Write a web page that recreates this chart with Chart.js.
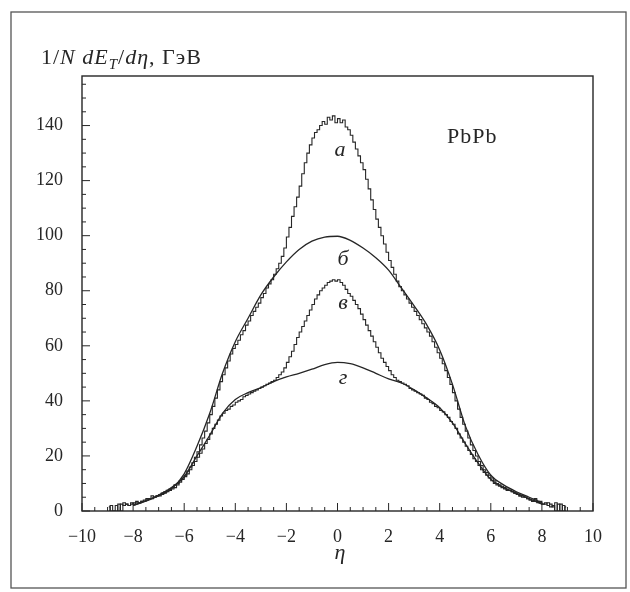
<!DOCTYPE html>
<html>
<head>
<meta charset="utf-8">
<script src="https://cdn.jsdelivr.net/npm/chart.js@4.4.1/dist/chart.umd.min.js"></script>
<style>
  body { margin: 0; background: #fff; }
  canvas { display: block; }
</style>
</head>
<body>
<canvas id="etChart" width="630" height="592" style="width:630px;height:592px"></canvas>
<script>
// центри бінів гістограм (крок 0.1)
const etaBins = [
  -8.95, -8.85, -8.75, -8.65, -8.55, -8.45, -8.35, -8.25, -8.15, -8.05,
  -7.95, -7.85, -7.75, -7.65, -7.55, -7.45, -7.35, -7.25, -7.15, -7.05,
  -6.95, -6.85, -6.75, -6.65, -6.55, -6.45, -6.35, -6.25, -6.15, -6.05,
  -5.95, -5.85, -5.75, -5.65, -5.55, -5.45, -5.35, -5.25, -5.15, -5.05,
  -4.95, -4.85, -4.75, -4.65, -4.55, -4.45, -4.35, -4.25, -4.15, -4.05,
  -3.95, -3.85, -3.75, -3.65, -3.55, -3.45, -3.35, -3.25, -3.15, -3.05,
  -2.95, -2.85, -2.75, -2.65, -2.55, -2.45, -2.35, -2.25, -2.15, -2.05,
  -1.95, -1.85, -1.75, -1.65, -1.55, -1.45, -1.35, -1.25, -1.15, -1.05,
  -0.95, -0.85, -0.75, -0.65, -0.55, -0.45, -0.35, -0.25, -0.15, -0.05,
  0.05, 0.15, 0.25, 0.35, 0.45, 0.55, 0.65, 0.75, 0.85, 0.95,
  1.05, 1.15, 1.25, 1.35, 1.45, 1.55, 1.65, 1.75, 1.85, 1.95,
  2.05, 2.15, 2.25, 2.35, 2.45, 2.55, 2.65, 2.75, 2.85, 2.95,
  3.05, 3.15, 3.25, 3.35, 3.45, 3.55, 3.65, 3.75, 3.85, 3.95,
  4.05, 4.15, 4.25, 4.35, 4.45, 4.55, 4.65, 4.75, 4.85, 4.95,
  5.05, 5.15, 5.25, 5.35, 5.45, 5.55, 5.65, 5.75, 5.85, 5.95,
  6.05, 6.15, 6.25, 6.35, 6.45, 6.55, 6.65, 6.75, 6.85, 6.95,
  7.05, 7.15, 7.25, 7.35, 7.45, 7.55, 7.65, 7.75, 7.85, 7.95,
  8.05, 8.15, 8.25, 8.35, 8.45, 8.55, 8.65, 8.75, 8.85, 8.95
];

// крива "а" (гістограма)
const histA = [
  0, 2, 0, 0, 2.5, 0, 3, 2.5, 2, 2.5,
  3, 3.5, 3, 3.5, 4, 4.5, 4.5, 5.5, 5, 5.5,
  6, 6.5, 7, 7.5, 8, 8.5, 9.5, 10, 11, 12,
  13, 14.5, 16, 17.5, 19.5, 21.5, 24, 26.5, 29, 32,
  35, 38, 41, 44, 47, 49.5, 52, 54.5, 57, 59,
  60.5, 62, 64, 65.5, 67.5, 69, 71, 72.5, 74, 75.5,
  77.5, 79, 81, 82.5, 84, 86, 88, 90, 92.5, 95.5,
  99.5, 103, 107, 110.5, 114, 118, 122.5, 126.5, 130, 133,
  135.5, 137.5, 138.5, 140, 141.5, 140.5, 143, 142, 143.5, 141,
  142.5, 141, 142, 139.5, 138.5, 136.5, 134, 131.5, 129, 126.5,
  124, 120.5, 117, 113, 109.5, 106, 103, 100, 97, 94,
  91, 88.5, 86, 83.5, 81.5, 80, 78.5, 77, 75.5, 74,
  72.5, 71, 69.5, 68, 66.5, 65, 63.5, 61.5, 59.5, 57.5,
  55.5, 53.5, 51, 48.5, 46, 43, 40, 37, 34, 31.5,
  29, 26.5, 24, 22, 20, 18, 16.5, 15, 14, 13,
  12, 11, 10, 9.5, 9, 8.5, 8, 7.5, 7, 6.5,
  6, 5.5, 5.5, 5, 4.5, 4, 3.5, 4.5, 3, 3.5,
  2.5, 3, 2, 2.5, 1.5, 3, 0, 2.5, 0, 1.5
];

// крива "в" (гістограма)
const histV = [
  1.5, 0, 0, 2, 0, 2.5, 2, 2.5, 2, 3,
  2.5, 3, 3, 3.5, 3.5, 4, 4.5, 4.5, 5, 5.5,
  5.5, 6, 6.5, 7, 7.5, 8, 8.5, 9.5, 10.5, 11.5,
  12.5, 13.5, 15, 16.5, 18, 19.5, 21, 22.5, 24.5, 26,
  28, 30, 31.5, 33, 34.5, 35.5, 36.5, 37, 38, 38.5,
  39.5, 40, 40.5, 41.5, 42, 42.5, 43, 43.5, 44, 44.5,
  45, 45.5, 46, 46.5, 47, 47.5, 48.5, 49.5, 50.5, 52,
  54, 56, 58, 60.5, 63, 65, 67, 69, 71, 73,
  75, 77, 78.5, 80, 81, 82, 83, 83.5, 84, 83.5,
  84, 83, 82, 80.5, 79, 78, 76.5, 75, 73.5, 71.5,
  69.5, 67.5, 65.5, 63.5, 61.5, 59.5, 57.5, 55.5, 54, 52.5,
  51, 49.5, 48.5, 47.5, 47, 46.5, 46, 45.5, 44.5, 44,
  43.5, 43, 42.5, 42, 41, 40.5, 39.5, 39, 38, 37.5,
  36.5, 36, 35, 34, 32.5, 31.5, 30, 28, 26.5, 25,
  23.5, 22, 20.5, 19, 18, 16.5, 15, 14, 13, 12,
  11, 10, 9.5, 9, 8.5, 8, 7.5, 7.5, 7, 6.5,
  6, 5.5, 5, 5, 4.5, 4, 3.5, 4, 3.5, 3,
  2.5, 2.5, 3, 1.5, 2, 0, 2.5, 0, 2, 0
];

// гладкі криві "б" і "г"
const etaSmooth = [-8, -7.5, -7, -6.5, -6, -5.5, -5, -4.5, -4, -3.5, -3, -2.5, -2, -1.5, -1, -0.5,
  0, 0.5, 1, 1.5, 2, 2.5, 3, 3.5, 4, 4.5, 5, 5.5, 6, 6.5, 7, 7.5, 8];
const curveB = [2, 3.6, 5.5, 8, 13.5, 23.5, 35.5, 50, 61.5, 70, 78.5, 85, 90.5, 95, 98, 99.5,
  99.8, 98.3, 95.5, 92, 87.5, 81, 74.5, 67.5, 58.5, 46, 31, 20.5, 13, 9.5, 7, 5, 3];
const curveG = [2, 3.8, 5.8, 8.5, 12.5, 20, 27.5, 35.5, 40.5, 43, 44.8, 47, 48.7, 50, 51.5, 53.2,
  54, 53.5, 52, 50, 48, 46.5, 44, 41, 37.5, 32, 24.5, 17.5, 11.5, 8.5, 6.5, 4.5, 2.5];

// підписи осей
const xTicks = [-10, -8, -6, -4, -2, 0, 2, 4, 6, 8, 10];
const yTicks = [0, 20, 40, 60, 80, 100, 120, 140];

const INK = '#262626';
const SERIF = '"Liberation Serif", "DejaVu Serif", serif';

function pts(xs, ys) {
  return xs.map((x, i) => ({ x: x, y: ys[i] }));
}

// рамки, внутрішні риски, підписи кривих
const decor = {
  id: 'decor',
  afterDraw(chart) {
    const c = chart.ctx;
    const a = chart.chartArea;
    const xs = chart.scales.x, ys = chart.scales.y;
    c.save();
    c.strokeStyle = INK;
    c.lineWidth = 1.4;
    c.strokeRect(a.left, a.top, a.right - a.left, a.bottom - a.top);

    c.lineWidth = 1;
    c.beginPath();
    for (let v = -10; v <= 10.001; v += 0.5) {
      const px = xs.getPixelForValue(v);
      const len = Math.abs(v % 2) < 0.01 ? 8 : 4;
      c.moveTo(px, a.bottom); c.lineTo(px, a.bottom - len);
    }
    for (let v = 0; v <= 155; v += 5) {
      const py = ys.getPixelForValue(v);
      const len = v % 20 === 0 ? 8 : 4;
      c.moveTo(a.left, py); c.lineTo(a.left + len, py);
    }
    c.stroke();

    // зовнішня рамка
    c.strokeStyle = '#555';
    c.lineWidth = 1.3;
    c.strokeRect(11, 12, 615, 576);

    // заголовок осі Y
    c.fillStyle = INK;
    c.textBaseline = 'alphabetic';
    let x = 41;
    const base = 64;
    const parts = [
      ['1/', '', 22, 0], ['N', 'italic ', 22, 0], [' ', '', 22, 0], ['dE', 'italic ', 22, 0],
      ['T', 'italic ', 15, 5], ['/', '', 22, 0], ['d\u03b7', 'italic ', 22, 0], [', \u0413\u044d\u0412', '', 22, 0]
    ];
    c.letterSpacing = '1px';
    parts.forEach(p => {
      c.font = p[1] + p[2] + 'px ' + SERIF;
      c.fillText(p[0], x, base + p[3]);
      x += c.measureText(p[0]).width;
    });

    c.font = '22px ' + SERIF;
    c.fillText('PbPb', 447, 143);
    c.letterSpacing = '0px';

    c.font = 'italic 22px ' + SERIF;
    c.textAlign = 'center';
    c.textBaseline = 'middle';
    c.fillText('\u03b7', 340, 553);
    c.fillText('\u0430', 340, 150);
    c.fillText('\u0431', 343, 259);
    c.fillText('\u0432', 343, 303);
    c.fillText('\u0433', 343, 378);
    c.restore();
  }
};

const ctx = document.getElementById('etChart').getContext('2d');
const chart = new Chart(ctx, {
  type: 'line',
  data: {
    datasets: [
      { data: pts(etaBins, histA), stepped: 'middle', borderColor: INK, borderWidth: 1.1, pointRadius: 0 },
      { data: pts(etaSmooth, curveB), cubicInterpolationMode: 'monotone', borderColor: INK, borderWidth: 1.3, pointRadius: 0 },
      { data: pts(etaBins, histV), stepped: 'middle', borderColor: INK, borderWidth: 1.1, pointRadius: 0 },
      { data: pts(etaSmooth, curveG), cubicInterpolationMode: 'monotone', borderColor: INK, borderWidth: 1.3, pointRadius: 0 }
    ]
  },
  options: {
    responsive: false,
    animation: false,
    layout: { padding: { top: 76, right: 37, left: 0, bottom: 0 } },
    plugins: { legend: { display: false }, tooltip: { enabled: false } },
    scales: {
      x: {
        type: 'linear', min: -10, max: 10,
        afterFit(s) { s.height = 81; },
        afterBuildTicks(s) { s.ticks = xTicks.map(v => ({ value: v })); },
        grid: { display: false },
        border: { display: false },
        ticks: {
          padding: 7, color: INK, maxRotation: 0, autoSkip: false,
          font: { family: SERIF, size: 18 },
          callback: v => String(v).replace('-', '\u2212')
        }
      },
      y: {
        type: 'linear', min: 0, max: 158,
        afterFit(s) { s.width = 82; },
        afterBuildTicks(s) { s.ticks = yTicks.map(v => ({ value: v })); },
        grid: { display: false },
        border: { display: false },
        ticks: { padding: 11, color: INK, font: { family: SERIF, size: 18 } }
      }
    }
  },
  plugins: [decor]
});
</script>
</body>
</html>
